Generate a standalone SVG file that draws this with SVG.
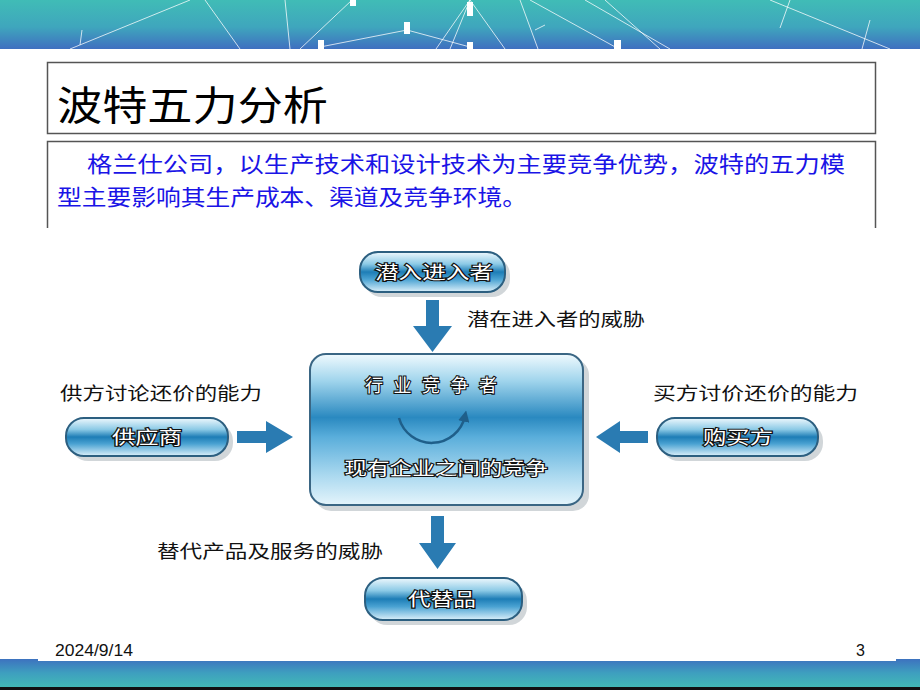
<svg xmlns="http://www.w3.org/2000/svg" width="920" height="690" viewBox="0 0 920 690">
<defs>
<linearGradient id="banner" x1="0" y1="0" x2="0" y2="1">
<stop offset="0" stop-color="#40bcb6"/>
<stop offset="0.55" stop-color="#3fa6bd"/>
<stop offset="1" stop-color="#3f6fc0"/>
</linearGradient>
<linearGradient id="band" x1="0" y1="0" x2="0" y2="1">
<stop offset="0" stop-color="#3d72bf"/>
<stop offset="0.5" stop-color="#3e9fbf"/>
<stop offset="1" stop-color="#42b9b6"/>
</linearGradient>
<linearGradient id="pill" x1="0" y1="0" x2="0" y2="1">
<stop offset="0" stop-color="#eef8fd"/>
<stop offset="0.3" stop-color="#8ccae6"/>
<stop offset="0.5" stop-color="#1d7db6"/>
<stop offset="0.68" stop-color="#4aa2d2"/>
<stop offset="1" stop-color="#dcf0fa"/>
</linearGradient>
<linearGradient id="core" x1="0" y1="0" x2="0" y2="1">
<stop offset="0" stop-color="#f0fafe"/>
<stop offset="0.18" stop-color="#9fd4ec"/>
<stop offset="0.42" stop-color="#2a89c0"/>
<stop offset="0.55" stop-color="#5aaedb"/>
<stop offset="0.8" stop-color="#a9d8ef"/>
<stop offset="1" stop-color="#e4f4fb"/>
</linearGradient>
<marker id="curl" viewBox="0 0 10 10" refX="5" refY="5" markerWidth="4.5" markerHeight="4.5" orient="auto">
<path d="M0,0 L10,5 L0,10 z" fill="#1f5f8a"/>
</marker>
<style>
.nodeText{font-family:"Noto Sans CJK SC","Liberation Sans",sans-serif;font-size:18px;fill:#ffffff;stroke:#111;stroke-width:2.2px;paint-order:stroke;text-anchor:middle;}
.lbl{font-family:"Noto Sans CJK SC","Liberation Sans",sans-serif;font-size:18px;fill:#111;}
.pillShape{fill:url(#pill);stroke:#2c5f80;stroke-width:2;}
.shadow{fill:#9aa4aa;opacity:0.45;}
.arrow{fill:#2a7bb2;}
.bline{stroke:#ffffff;stroke-width:1;opacity:0.75;}
</style>
</defs>

<!-- background -->
<rect width="920" height="690" fill="#ffffff"/>
<g id="banner-top">
<rect x="0" y="0" width="920" height="49" fill="url(#banner)"/>
<line class="bline" x1="70" y1="49" x2="190" y2="0"/>
<line class="bline" x1="80" y1="45" x2="82" y2="30"/>
<line class="bline" x1="205" y1="0" x2="240" y2="49"/>
<line class="bline" x1="285" y1="0" x2="290" y2="49"/>
<line class="bline" x1="300" y1="49" x2="352" y2="0"/>
<line class="bline" x1="320" y1="47" x2="407" y2="30"/>
<line class="bline" x1="407" y1="30" x2="470" y2="47"/>
<line class="bline" x1="450" y1="49" x2="470" y2="0"/>
<line class="bline" x1="470" y1="0" x2="505" y2="49"/>
<line class="bline" x1="470" y1="0" x2="436" y2="49"/>
<line class="bline" x1="520" y1="0" x2="538" y2="49"/>
<line class="bline" x1="535" y1="30" x2="545" y2="25"/>
<line class="bline" x1="530" y1="0" x2="617" y2="48"/>
<line class="bline" x1="585" y1="0" x2="670" y2="49"/>
<line class="bline" x1="605" y1="0" x2="660" y2="49"/>
<line class="bline" x1="770" y1="0" x2="890" y2="49"/>
<line class="bline" x1="780" y1="28" x2="790" y2="0"/>
<line class="bline" x1="862" y1="49" x2="870" y2="20"/>
<rect x="350" y="0" width="6" height="6" fill="#ffffff"/>
<rect x="318" y="40" width="6" height="16" fill="#ffffff"/>
<rect x="404" y="22" width="6" height="12" fill="#ffffff"/>
<rect x="467" y="2" width="6" height="14" fill="#ffffff"/>
<rect x="467" y="42" width="6" height="10" fill="#ffffff"/>
<rect x="614" y="40" width="7" height="14" fill="#ffffff"/>
</g>
<g id="banner-bottom">
<rect x="0" y="659" width="920" height="28" fill="url(#band)"/>
<rect x="38" y="655" width="858" height="6" fill="#ffffff"/>
<rect x="0" y="687" width="920" height="3" fill="#111"/>
</g>

<!-- title -->
<g id="title">
<rect x="47.5" y="62.5" width="828" height="71" fill="none" stroke="#555" stroke-width="1.5"/>
<text x="57" y="120" font-family="'Noto Sans CJK SC','Liberation Sans',sans-serif" font-size="40" fill="#000" textLength="271" lengthAdjust="spacingAndGlyphs">波特五力分析</text>
</g>
<g id="textbox">
<path d="M47.5,228 V141.5 H875.5 V228" fill="none" stroke="#555" stroke-width="1.5"/>
<text x="87" y="172" font-family="'Noto Sans CJK SC','Liberation Sans',sans-serif" font-size="22" fill="#1a14e6" textLength="758" lengthAdjust="spacingAndGlyphs">格兰仕公司，以生产技术和设计技术为主要竞争优势，波特的五力模</text>
<text x="57" y="205" font-family="'Noto Sans CJK SC','Liberation Sans',sans-serif" font-size="22" fill="#1a14e6" textLength="470" lengthAdjust="spacingAndGlyphs">型主要影响其生产成本、渠道及竞争环境。</text>
</g>

<!-- connectors -->
<g id="connectors">
<path class="arrow" d="M426,300 H439 V326 H452 L432.5,352 L413,326 H426 Z"/>
<path class="arrow" d="M237,431 H266 V421 L293,437 L266,453 V443 H237 Z"/>
<path class="arrow" d="M648,431 H620 V421 L596,437 L620,453 V443 H648 Z"/>
<path class="arrow" d="M431,516 H444 V543 H456 L437.5,569 L419,543 H431 Z"/>
</g>

<!-- labels -->
<g id="labels">
<text class="lbl" x="467" y="326" textLength="178" lengthAdjust="spacingAndGlyphs">潜在进入者的威胁</text>
<text class="lbl" x="60" y="400" textLength="202" lengthAdjust="spacingAndGlyphs">供方讨论还价的能力</text>
<text class="lbl" x="653" y="400" textLength="205" lengthAdjust="spacingAndGlyphs">买方讨价还价的能力</text>
<text class="lbl" x="157" y="558" textLength="226" lengthAdjust="spacingAndGlyphs">替代产品及服务的威胁</text>
</g>

<!-- nodes -->
<g id="node-entrants">
<rect class="shadow" x="364" y="257" width="146" height="40" rx="18"/>
<rect class="pillShape" x="360" y="252" width="145" height="40" rx="18"/>
<text class="nodeText" x="434" y="279" textLength="118" lengthAdjust="spacingAndGlyphs">潜入进入者</text>
</g>
<g id="node-industry">
<rect class="shadow" x="315" y="359" width="274" height="152" rx="16"/>
<rect x="310" y="354" width="273" height="151" rx="16" fill="url(#core)" stroke="#3a6684" stroke-width="2"/>
<text class="nodeText" x="431" y="392" textLength="132" lengthAdjust="spacing">行业竞争者</text>
<path d="M399,418 A34,34 0 0 0 465,416" fill="none" stroke="#1f5f8a" stroke-width="2.5" marker-end="url(#curl)"/>
<text class="nodeText" x="446" y="475" textLength="203" lengthAdjust="spacingAndGlyphs">现有企业之间的竞争</text>
</g>
<g id="node-supplier">
<rect class="shadow" x="70" y="423" width="163" height="38" rx="18"/>
<rect class="pillShape" x="66" y="418" width="162" height="38" rx="18"/>
<text class="nodeText" x="147" y="444" textLength="70" lengthAdjust="spacingAndGlyphs">供应商</text>
</g>
<g id="node-buyer">
<rect class="shadow" x="661" y="423" width="162" height="38" rx="18"/>
<rect class="pillShape" x="657" y="418" width="161" height="38" rx="18"/>
<text class="nodeText" x="738" y="444" textLength="70" lengthAdjust="spacingAndGlyphs">购买方</text>
</g>
<g id="node-substitute">
<rect class="shadow" x="369" y="583" width="158" height="42" rx="18"/>
<rect class="pillShape" x="365" y="578" width="157" height="42" rx="18"/>
<text class="nodeText" x="442" y="606" textLength="68" lengthAdjust="spacingAndGlyphs">代替品</text>
</g>

<!-- footer -->
<g id="footer">
<text x="55" y="656" font-family="'Liberation Sans',sans-serif" font-size="16" fill="#111" textLength="78" lengthAdjust="spacingAndGlyphs">2024/9/14</text>
<text x="856" y="656" font-family="'Liberation Sans',sans-serif" font-size="16" fill="#111">3</text>
</g>
</svg>
